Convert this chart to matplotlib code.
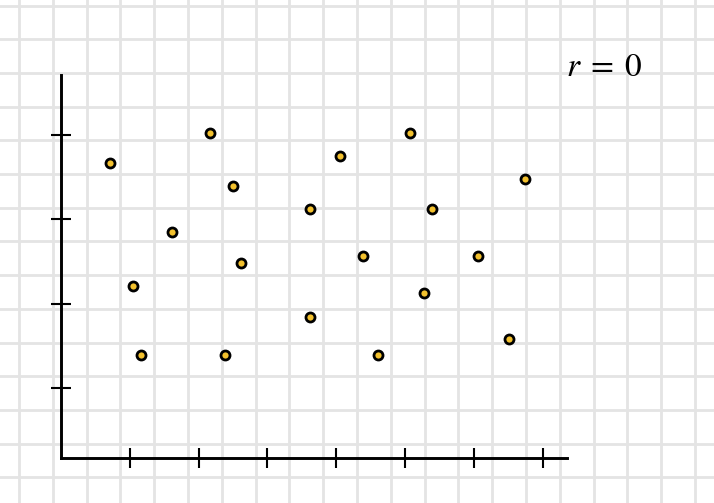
import numpy as np
import matplotlib.pyplot as plt

# scatter values
xs = [0.71, 1.05, 1.16, 1.61, 2.17, 2.50, 2.62, 2.38, 3.62, 3.62,
      4.06, 4.39, 4.61, 5.07, 5.39, 5.28, 6.06, 6.51, 6.74]
ys = [3.67, 2.21, 1.39, 2.85, 4.02, 3.40, 2.48, 1.39, 3.12, 1.84,
      3.75, 2.57, 1.39, 4.02, 3.12, 2.13, 2.57, 1.58, 3.48]
xticks = [1, 2, 3, 4, 5, 6, 7]
yticks = [1, 2, 3, 4]
label = r"$r\;=\;0$"

W, H = 714, 503
fig = plt.figure(figsize=(W / 100, H / 100), dpi=100)

# graph-paper background
bg = fig.add_axes([0, 0, 1, 1])
bg.set_xlim(0, W)
bg.set_ylim(H, 0)
for gx in np.arange(19, W, 33.8):
    bg.axvline(gx, color="#e4e4e4", lw=2.0, zorder=0)
for gy in np.arange(5.5, H, 33.7):
    bg.axhline(gy, color="#e4e4e4", lw=2.0, zorder=0)
bg.axis("off")

# main axes
ax = fig.add_axes([61 / W, (H - 458) / H, (567 - 61) / W, (458 - 75) / H])
ax.patch.set_alpha(0)
ax.set_xlim(0, 506 / 68.8)
ax.set_ylim(1 - 70 / 84.33, 4 + 60 / 84.33)
for s in ["top", "right"]:
    ax.spines[s].set_visible(False)
for s in ["left", "bottom"]:
    ax.spines[s].set_linewidth(2.1)
    ax.spines[s].set_capstyle("projecting")
ax.set_xticks(xticks)
ax.set_yticks(yticks)
ax.set_xticklabels([])
ax.set_yticklabels([])
ax.tick_params(direction="inout", length=14, width=1.5, color="black")

ax.plot(xs, ys, "o", ms=6.5, mfc="#f3c12e", mec="black", mew=2.0,
        clip_on=False, zorder=3)

plt.rcParams["mathtext.fontset"] = "stix"
fig.text(604 / W, 1 - 66 / H, label, fontsize=24, ha="center", va="center")

fig.savefig("out.png", dpi=100)
